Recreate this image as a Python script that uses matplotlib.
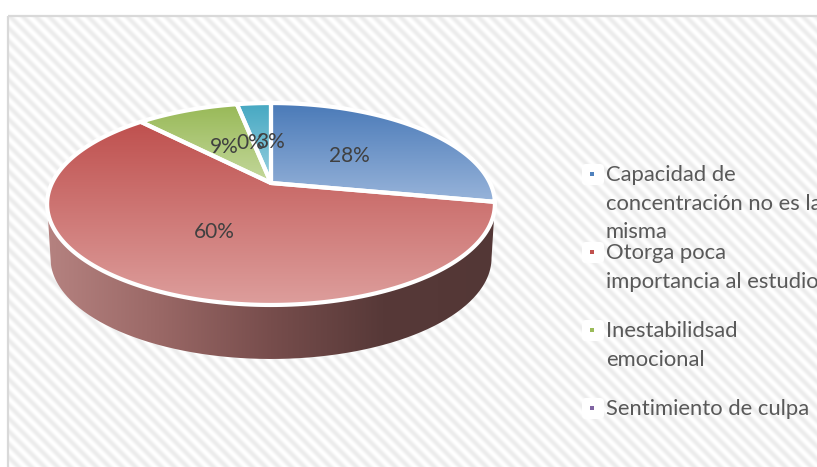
""" Pie chart with perspective, causes of low school performance """
import numpy as np
import matplotlib
matplotlib.use("Agg")
import matplotlib.pyplot as plt
from matplotlib.colors import LinearSegmentedColormap
from matplotlib.patches import Polygon, FancyBboxPatch, Rectangle
from matplotlib.path import Path

plt.rcParams["font.family"] = ["Lato", "DejaVu Sans"]

values = [28, 60, 9, 0, 3]
labels = ["28%", "60%", "9%", "0%", "3%"]
legend_lines = [
  ["Capacidad de", "concentración no es la", "misma"],
  ["Otorga poca", "importancia al estudio"],
  ["Inestabilidsad", "emocional"],
  ["Sentimiento de culpa"],
]
top_colors = ["#4a7ab8", "#bf504e", "#98b957", "#46a8c2"]
bottom_colors = ["#98b4da", "#dd9e9c", "#c4d89c", "#98d0e0"]
key_colors = ["#4f81bd", "#c0504d", "#9bbb59", "#8064a2"]

W, H = 817, 467
APEX_X, APEX_Y = 271, 183
RX, RY, PERSP = 219, 96.6, 0.208
DEPTH = 54


def rim(theta):
  """ Point on the tilted pie rim for angle clockwise from the top (radians). """
  den = 1 + PERSP * np.cos(theta)
  return APEX_X + RX * np.sin(theta) / den, APEX_Y - RY * np.cos(theta) / den


def gradient(ax, verts, colors, horizontal=False, zorder=3):
  """ Fill a polygon with a linear gradient. """
  verts = np.asarray(verts)
  x0, x1 = verts[:, 0].min(), verts[:, 0].max()
  y0, y1 = verts[:, 1].min(), verts[:, 1].max()
  cmap = LinearSegmentedColormap.from_list("g", colors)
  ramp = np.linspace(0, 1, 256)
  ramp = ramp.reshape(1, -1) if horizontal else ramp.reshape(-1, 1)
  img = ax.imshow(ramp, cmap=cmap, extent=(x0, x1, y1, y0), aspect="auto",
                  zorder=zorder, interpolation="bilinear")
  img.set_clip_path(Path(verts), ax.transData)


fig = plt.figure(figsize=(W / 100, H / 100), dpi=100)
ax = fig.add_axes([0, 0, 1, 1])

# striped background inside the grey frame
xx, yy = np.meshgrid(np.arange(W), np.arange(H))
stripes = 0.5 + 0.5 * np.cos(2 * np.pi * (xx - yy) / 13)
bg = 235 + 20 * stripes
bg[:15, :] = 255
bg[:, :8] = 255
ax.imshow(bg, cmap="gray", vmin=0, vmax=255, extent=(0, W, H, 0), aspect="auto",
          zorder=0, interpolation="bilinear")
ax.add_patch(Rectangle((8.5, 15.5), W, H, fill=False, ec="#d9d9d9", lw=1.6, zorder=1))

# side wall, between the left and right extremes of the rim
side_start = np.arccos(-PERSP)
front = np.linspace(side_start, 2 * np.pi - side_start, 300)
fx, fy = rim(front)
low_x = APEX_X + (fx - APEX_X) * 0.985
low_y = fy + DEPTH
side = np.vstack([np.c_[fx, fy], np.c_[low_x, low_y][::-1]])
gradient(ax, side, ["#b58280", "#9a6866", "#774d4c", "#573938", "#533736"],
         horizontal=True, zorder=2)

# top surface, one wedge per value
shares = np.array(values) / sum(values)
edges = np.concatenate([[0], np.cumsum(shares)]) * 2 * np.pi
wedge_index = [0, 1, 2, 4]
for c, i in enumerate(wedge_index):
  theta = np.linspace(edges[i], edges[i + 1], 200)
  x, y = rim(theta)
  verts = np.vstack([[APEX_X, APEX_Y], np.c_[x, y]])
  gradient(ax, verts, [top_colors[c], bottom_colors[c]])
  ax.add_patch(Polygon(verts, closed=True, fill=False, ec="white", lw=3,
                       joinstyle="round", zorder=5))

# data labels
label_pos = [(349, 156), (214, 232), (224, 147), (251, 143), (271, 142)]
for text, (px, py) in zip(labels, label_pos):
  ax.text(px, py, text, ha="center", va="center", fontsize=15, color="#404040", zorder=6)

# legend
row_top = [175, 253, 331, 409]
for lines, color, y0 in zip(legend_lines, key_colors, row_top):
  ax.add_patch(FancyBboxPatch((582, y0 - 11), 22, 21, boxstyle="round,pad=0,rounding_size=4",
                              fc="white", ec="none", zorder=2))
  ax.add_patch(Rectangle((590.5, y0 - 3.5), 4, 4, fc=color, ec="none", zorder=3))
  for n, line in enumerate(lines):
    ax.text(606, y0 + n * 28.5, line, ha="left", va="center", fontsize=15.8,
            color="#595959", zorder=6)

ax.set_xlim(0, W)
ax.set_ylim(H, 0)
ax.axis("off")
fig.savefig("out.png", dpi=100)
